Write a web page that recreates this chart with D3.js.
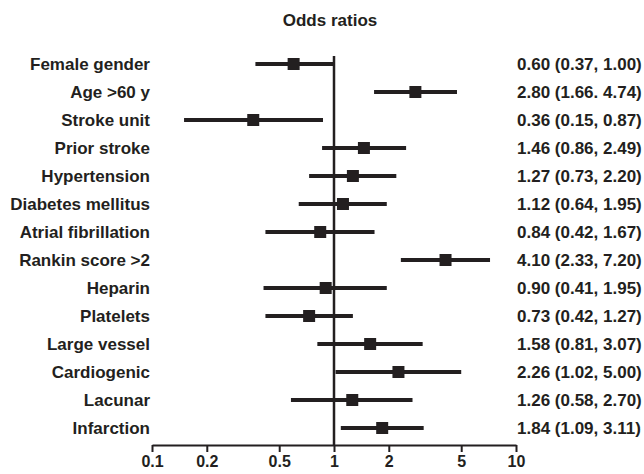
<!DOCTYPE html>
<html><head><meta charset="utf-8">
<script src="https://cdn.jsdelivr.net/npm/d3@7"></script>
<style>
html,body{margin:0;padding:0;background:#fff;}
svg{display:block;}
text{font-family:"Liberation Sans",Arial,Helvetica,sans-serif;font-weight:bold;fill:#231f20;}
</style></head><body>
<svg id="chart" width="644" height="474"></svg>
<script>
const categories = ["Female gender","Age >60 y","Stroke unit","Prior stroke","Hypertension","Diabetes mellitus","Atrial fibrillation","Rankin score >2","Heparin","Platelets","Large vessel","Cardiogenic","Lacunar","Infarction"];
const oddsRatio = [0.60,2.80,0.36,1.46,1.27,1.12,0.84,4.10,0.90,0.73,1.58,2.26,1.26,1.84];
const lowerCI = [0.37,1.66,0.15,0.86,0.73,0.64,0.42,2.33,0.41,0.42,0.81,1.02,0.58,1.09];
const upperCI = [1.00,4.74,0.87,2.49,2.20,1.95,1.67,7.20,1.95,1.27,3.07,5.00,2.70,3.11];
const valueLabels = ["0.60 (0.37, 1.00)","2.80 (1.66. 4.74)","0.36 (0.15, 0.87)","1.46 (0.86, 2.49)","1.27 (0.73, 2.20)","1.12 (0.64, 1.95)","0.84 (0.42, 1.67)","4.10 (2.33, 7.20)","0.90 (0.41, 1.95)","0.73 (0.42, 1.27)","1.58 (0.81, 3.07)","2.26 (1.02, 5.00)","1.26 (0.58, 2.70)","1.84 (1.09, 3.11)"];
const tickValues = [0.1,0.2,0.5,1,2,5,10];
const tickLabels = ["0.1","0.2","0.5","1","2","5","10"];
const title = "Odds ratios";

const ink = "#231f20";
const svg = d3.select("#chart");
const x = d3.scaleLog().domain([0.1,10]).range([152,516]);
const y = d3.scalePoint().domain(categories).range([64,428]);
const axisY = 445;

svg.append("text").attr("x",330).attr("y",20).attr("dy","0.35em")
  .attr("text-anchor","middle").style("font-size","17px").text(title);

// reference line at OR = 1
svg.append("line").attr("x1",x(1)).attr("x2",x(1)).attr("y1",56).attr("y2",axisY)
  .attr("stroke",ink).attr("stroke-width",2.5);

const rows = categories.map((c,i)=>({c,or:oddsRatio[i],lo:lowerCI[i],hi:upperCI[i],lab:valueLabels[i]}));

svg.append("g").selectAll("line").data(rows).join("line")
  .attr("x1",d=>x(d.lo)).attr("x2",d=>x(d.hi))
  .attr("y1",d=>y(d.c)).attr("y2",d=>y(d.c))
  .attr("stroke",ink).attr("stroke-width",4);

const sq = 12;
svg.append("g").selectAll("rect").data(rows).join("rect")
  .attr("x",d=>x(d.or)-sq/2).attr("y",d=>y(d.c)-sq/2)
  .attr("width",sq).attr("height",sq).attr("fill",ink);

svg.append("g").selectAll("text").data(rows).join("text")
  .attr("x",150).attr("y",d=>y(d.c)).attr("dy","0.35em")
  .attr("text-anchor","end").style("font-size","17px").text(d=>d.c);

svg.append("g").selectAll("text").data(rows).join("text")
  .attr("x",517).attr("y",d=>y(d.c)).attr("dy","0.35em")
  .attr("text-anchor","start").style("font-size","17px").text(d=>d.lab);

const axis = d3.axisBottom(x).tickValues(tickValues)
  .tickFormat((d,i)=>tickLabels[i]).tickSize(7).tickSizeOuter(0).tickPadding(4);
const g = svg.append("g").attr("transform",`translate(0,${axisY})`).call(axis);
g.select(".domain").attr("stroke",ink).attr("stroke-width",2);
g.selectAll(".tick line").attr("stroke",ink).attr("stroke-width",2);
g.selectAll(".tick text").style("font-size","16px").attr("fill",ink)
  .style("font-family","'Liberation Sans',Arial,sans-serif").style("font-weight","bold");
</script>
</body></html>
